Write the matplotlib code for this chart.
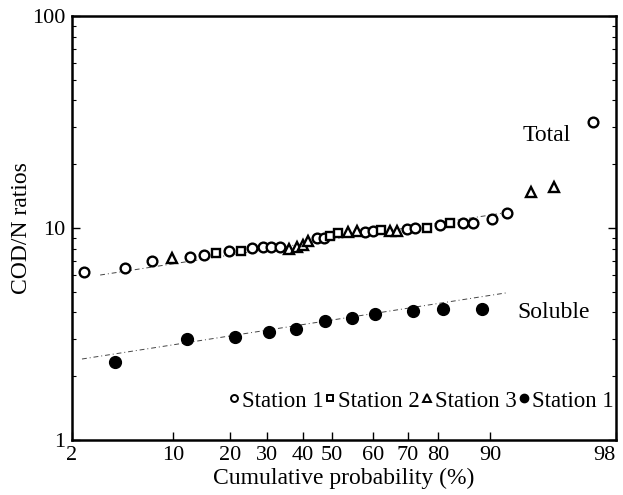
import numpy as np
import matplotlib.pyplot as plt
from matplotlib.lines import Line2D
from statistics import NormalDist

plt.rcParams['font.family'] = ['Liberation Serif', 'DejaVu Serif']

# Total COD/N, station 1 (open circles)
st1_p = [2.5, 5.0, 7.5, 12.5, 14.9, 19.8, 25.7, 28.8, 31.1, 33.5, 44.8, 47.2,
         58.1, 60.0, 69.7, 72.5, 80.5, 85.4, 87.2, 90.2, 91.7, 97.2]
st1_v = [6.20, 6.48, 6.99, 7.30, 7.46, 7.79, 8.05, 8.14, 8.14, 8.14, 8.97, 8.97,
         9.57, 9.68, 9.89, 10.0, 10.33, 10.56, 10.56, 11.03, 11.77, 31.6]
# station 2 (squares)
st2_p = [17.1, 22.8, 49.3, 51.5, 62.4, 76.6, 82.7]
st2_v = [7.62, 7.79, 9.17, 9.47, 9.78, 10.0, 10.56]
# station 3 (triangles)
st3_p = [9.9, 36.0, 38.3, 40.0, 41.7, 53.9, 56.1, 65.0, 67.0, 93.7, 95.3]
st3_v = [7.22, 7.96, 8.14, 8.32, 8.68, 9.57, 9.68, 9.68, 9.68, 14.78, 15.61]
# soluble COD/N, station 1 (filled circles)
sol_p = [4.2, 12.0, 21.2, 30.5, 38.0, 47.6, 54.9, 60.6, 71.8, 81.2, 88.8]
sol_v = [2.33, 2.99, 3.06, 3.23, 3.34, 3.64, 3.76, 3.93, 4.06, 4.15, 4.15]

# fitted lines (end points)
total_fit_p = [3.3, 92.0]
total_fit_v = [6.0, 11.9]
sol_fit_p = [2.4, 91.6]
sol_fit_v = [2.41, 4.94]

prob_ticks = [2, 10, 20, 30, 40, 50, 60, 70, 80, 90, 98]
prob_labels = ['2', '10', '20', '30', '40', '50', '60', '70', '80', '90', '98']

# probability paper as printed (tick spacing of the original paper)
nd = NormalDist()
z_ticks = np.array([nd.inv_cdf(p / 100) for p in prob_ticks])
tick_frac = (np.array([72, 173, 230, 267, 303, 332, 373, 408, 438, 490, 616]) - 72) / 544.0

_ppf = np.vectorize(lambda q: nd.inv_cdf(q / 100), otypes=[float])
_cdf = np.vectorize(lambda q: nd.cdf(q) * 100, otypes=[float])


def forward(p):
    p = np.clip(np.asarray(p, dtype=float), 1e-6, 100 - 1e-6)
    return np.interp(_ppf(p), z_ticks, tick_frac)


def inverse(u):
    z = np.interp(np.asarray(u, dtype=float), tick_frac, z_ticks)
    return _cdf(z)


fig = plt.figure(figsize=(6.23, 4.95), dpi=100)
ax = fig.add_axes([72 / 623, 55 / 495, 544 / 623, 424 / 495])
ax.set_xscale('function', functions=(forward, inverse))
ax.set_yscale('log')
ax.set_xlim(2, 98)
ax.set_ylim(1, 100)

lk = dict(color='#444444', lw=0.7, ls=(0, (5, 3, 1, 3)))
ax.plot(total_fit_p, total_fit_v, **lk)
ax.plot(sol_fit_p, sol_fit_v, **lk)

ax.plot(st1_p, st1_v, 'o', ms=7, mfc='white', mec='black', mew=1.7, ls='none')
ax.plot(st2_p, st2_v, 's', ms=6.3, mfc='white', mec='black', mew=1.7, ls='none')
ax.plot(st3_p, st3_v, '^', ms=7, mfc='white', mec='black', mew=1.7, ls='none')
ax.plot(sol_p, sol_v, 'o', ms=8.5, mfc='black', mec='black', ls='none')

ax.text(0.873, 0.719, 'Total', transform=ax.transAxes, ha='center', va='center', fontsize=17)
ax.text(0.885, 0.30, 'Soluble', transform=ax.transAxes, ha='center', va='center', fontsize=17)

handles = [
    Line2D([], [], marker='o', ls='none', ms=5, mfc='white', mec='black', mew=1.4),
    Line2D([], [], marker='s', ls='none', ms=5, mfc='white', mec='black', mew=1.4),
    Line2D([], [], marker='^', ls='none', ms=5.5, mfc='white', mec='black', mew=1.4),
    Line2D([], [], marker='o', ls='none', ms=6, mfc='black', mec='black'),
]
ax.legend(handles, ['Station 1', 'Station 2', 'Station 3', 'Station 1'], ncol=4,
          loc='center right', bbox_to_anchor=(0.995, 0.092), frameon=False,
          fontsize=16.5, handlelength=0.5, handletextpad=0.1, columnspacing=0.05,
          borderaxespad=0, borderpad=0)

ax.set_xticks(prob_ticks)
ax.set_xticklabels(prob_labels)
ax.get_xticklabels()[-1].set_horizontalalignment('right')
ax.xaxis.set_minor_locator(plt.NullLocator())
ax.set_yticks([1, 10, 100])
ax.set_yticklabels(['1', '10', '100'])
ax.tick_params(axis='both', which='major', direction='in', length=6, width=1,
               labelsize=16)
ax.tick_params(axis='x', pad=4)
ax.tick_params(axis='y', pad=5)
ax.tick_params(axis='y', which='both', direction='in', right=True)
ax.tick_params(axis='y', which='minor', length=3, width=0.8)
for s in ax.spines.values():
    s.set_linewidth(1.8)

ax.set_xlabel('Cumulative probability (%)', fontsize=17, labelpad=2)
ax.set_ylabel('COD/N ratios', fontsize=17, labelpad=0)

fig.savefig('out.png', dpi=100)
